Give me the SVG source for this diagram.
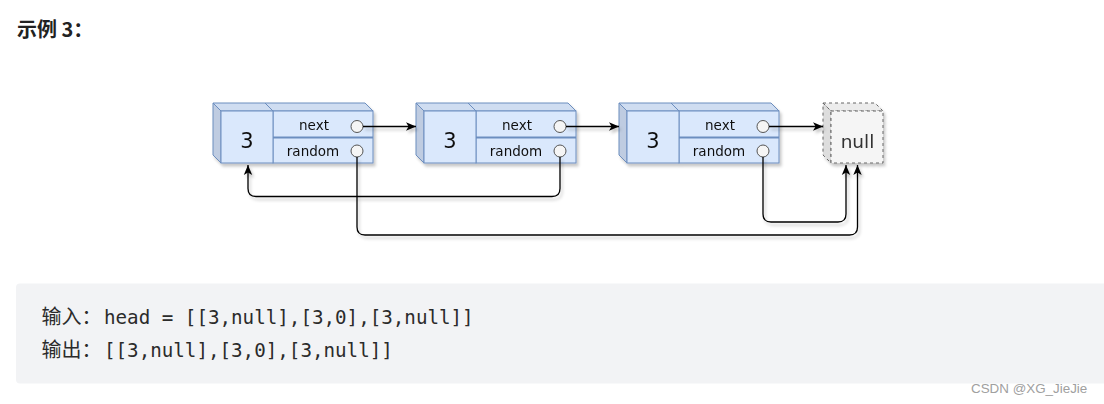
<svg xmlns="http://www.w3.org/2000/svg" width="1104" height="404" viewBox="0 0 1104 404">
<defs>
<style>
.front{fill:#dae8fc;stroke:#6c8ebf;stroke-width:1}
.top{fill:#cfddf1;stroke:#6c8ebf;stroke-width:1}
.left{fill:#bfcce1;stroke:#6c8ebf;stroke-width:1}
.div{stroke:#6c8ebf;stroke-width:2}
.port{fill:#f5f5f5;stroke:#555;stroke-width:1}
.lbl{font-family:"DejaVu Sans",sans-serif;font-size:13.5px;fill:#111;text-anchor:middle}
.val{font-family:"DejaVu Sans",sans-serif;font-size:21px;fill:#111;text-anchor:middle}
.nfront{fill:#f5f5f5;stroke:#666;stroke-dasharray:3 3}
.ntop{fill:#ececec;stroke:#666;stroke-dasharray:3 3}
.nleft{fill:#dddddd;stroke:#666;stroke-dasharray:3 3}
.edge{fill:none;stroke:#000;stroke-width:1.3;marker-end:url(#arr)}
.cjk{font-family:"Noto Sans CJK SC",sans-serif}
.mono{font-family:"DejaVu Sans Mono",monospace;font-size:19.2px}
</style>
<marker id="arr" viewBox="0 0 10 10" refX="10" refY="5" markerWidth="10" markerHeight="10" markerUnits="userSpaceOnUse" orient="auto">
<path d="M0,0.8 L10,5 L0,9.2 L2.6,5 Z" fill="#000"/>
</marker>
<filter id="sh" x="-10%" y="-10%" width="130%" height="140%">
<feDropShadow dx="2" dy="3" stdDeviation="1.5" flood-color="#000" flood-opacity="0.22"/>
</filter>
<g id="nodeShape">
<path class="top" d="M52,0 H152 L160,8 H60 Z"/>
<rect class="front" x="60" y="8" width="100" height="52"/>
<path class="top" d="M0,0 H52 L60,8 H8 Z"/>
<path class="left" d="M0,0 L8,8 V60 L0,52 Z"/>
<rect class="front" x="8" y="8" width="52" height="52"/>
<line class="div" x1="60" y1="34.5" x2="160" y2="34.5"/>
<circle class="port" cx="144" cy="23.5" r="6"/>
<circle class="port" cx="144" cy="48" r="6"/>
<text class="lbl" x="101" y="26.5">next</text>
<text class="lbl" x="100" y="53">random</text>
<text class="val" x="34" y="44.5">3</text>
</g>
</defs>
<rect width="1104" height="404" fill="#ffffff"/>
<text x="17" y="37" class="cjk" font-size="20" font-weight="700" fill="#222">示例 3：</text>

<g id="node1" transform="translate(213,103)" filter="url(#sh)"><use href="#nodeShape"/></g>
<g id="node2" transform="translate(416,103)" filter="url(#sh)"><use href="#nodeShape"/></g>
<g id="node3" transform="translate(619,103)" filter="url(#sh)"><use href="#nodeShape"/></g>
<g id="null" transform="translate(823,103)" filter="url(#sh)">
<path class="ntop" d="M0,0 H52 L60,8 H8 Z"/>
<path class="nleft" d="M0,0 L8,8 V60 L0,52 Z"/>
<rect class="nfront" x="8" y="8" width="52" height="52"/>
<text x="34.5" y="45" font-family="DejaVu Sans,sans-serif" font-size="18.5" fill="#333" text-anchor="middle">null</text>
</g>

<g id="connectors" filter="url(#sh)">
<path class="edge" d="M363,126.5 H416"/>
<path class="edge" d="M566,126.5 H619"/>
<path class="edge" d="M769,126.5 H823"/>
<path class="edge" d="M357,157 V227 Q357,235 365,235 H849.5 Q857.5,235 857.5,227 V165"/>
<path class="edge" d="M560,157 V188.5 Q560,196.5 552,196.5 H256 Q248,196.5 248,188.5 V165"/>
<path class="edge" d="M763,157 V214 Q763,222 771,222 H838 Q846,222 846,214 V165"/>
</g>

<rect x="16" y="283.5" width="1100" height="100" rx="4" fill="#f2f3f5"/>
<text y="323.5" fill="#2b2b2b"><tspan x="41.5" class="cjk" font-size="20">输入：</tspan><tspan x="104" class="mono">head = [[3,null],[3,0],[3,null]]</tspan></text>
<text y="357" fill="#2b2b2b"><tspan x="41.5" class="cjk" font-size="20">输出：</tspan><tspan x="104" class="mono">[[3,null],[3,0],[3,null]]</tspan></text>
<text x="971" y="393" font-family="Liberation Sans,sans-serif" font-size="13.4" fill="#a0a0a0">CSDN @XG_JieJie</text>
</svg>
